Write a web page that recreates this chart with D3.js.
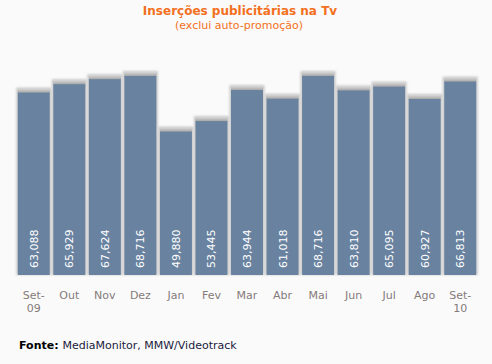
<!DOCTYPE html>
<html>
<head>
<meta charset="utf-8">
<script src="https://cdn.jsdelivr.net/npm/d3@7"></script>
<style>
body{margin:0;background:#fafafa;}
svg{display:block;font-family:Verdana,"DejaVu Sans",sans-serif;}
</style>
</head>
<body>
<div id="chart"></div>
<script>
// data
var months=['Set-\n09','Out','Nov','Dez','Jan','Fev','Mar','Abr','Mai','Jun','Jul','Ago','Set-\n10'];
var values=[63088,65929,67624,68716,49880,53445,63944,61018,68716,63810,65095,60927,66813];
var valueLabels=['63,088','65,929','67,624','68,716','49,880','53,445','63,944','61,018','68,716','63,810','65,095','60,927','66,813'];

var W=492,H=364;
var svg=d3.select('#chart').append('svg').attr('width',W).attr('height',H);
svg.append('rect').attr('width',W).attr('height',H).attr('fill','#fafafa');

var defs=svg.append('defs');
defs.append('filter').attr('id','glow').attr('x','-20%').attr('y','-20%').attr('width','140%').attr('height','140%')
  .append('feGaussianBlur').attr('stdDeviation',1);
var cap=defs.append('linearGradient').attr('id','cap').attr('x1',0).attr('y1',0).attr('x2',0).attr('y2',1);
cap.append('stop').attr('offset','0%').attr('stop-color','#d8d8d8');
cap.append('stop').attr('offset','100%').attr('stop-color','#9a9a9a');

var x=d3.scaleBand().domain(d3.range(months.length)).range([16,478]).paddingInner(0.1).paddingOuter(0.05);
var y=d3.scaleLinear().domain([0,68716]).range([275,72]);
var bottom=275;

var g=svg.selectAll('g.bar').data(values).enter().append('g').attr('class','bar');
// soft shadow around bar
g.append('rect').attr('x',function(d,i){return x(i)-1.5;}).attr('y',function(d){return y(d)-1;})
  .attr('width',x.bandwidth()+3).attr('height',function(d){return bottom-y(d)+1;})
  .attr('fill','#c8c8c8').attr('filter','url(#glow)');
// top cap
g.append('rect').attr('x',function(d,i){return x(i);}).attr('y',function(d){return y(d);})
  .attr('width',x.bandwidth()).attr('height',5).attr('fill','url(#cap)');
// bar body
g.append('rect').attr('x',function(d,i){return x(i);}).attr('y',function(d){return y(d)+4;})
  .attr('width',x.bandwidth()).attr('height',function(d){return bottom-y(d)-4;})
  .attr('fill','#6882a0');
// value labels
g.append('text').attr('transform',function(d,i){return 'translate('+(x(i)+x.bandwidth()/2+4)+',268) rotate(-90)';})
  .attr('fill','#ffffff').attr('font-size','11px').attr('text-anchor','start')
  .text(function(d,i){return valueLabels[i];});

// x axis labels
var xl=svg.selectAll('text.xl').data(months).enter().append('text').attr('class','xl')
  .attr('x',function(d,i){return x(i)+x.bandwidth()/2;}).attr('y',299)
  .attr('text-anchor','middle').attr('font-size','11px').attr('fill','#857a7a');
xl.each(function(d){
  var t=d3.select(this);
  d.split('\n').forEach(function(p,k){
    t.append('tspan').attr('x',t.attr('x')).attr('dy',k?13:0).text(p);
  });
});

// titles
svg.append('text').attr('x',240).attr('y',15).attr('text-anchor','middle').attr('font-size','12px')
  .attr('font-weight','bold').attr('fill','#f37021').text('Inserções publicitárias na Tv');
svg.append('text').attr('x',239).attr('y',29).attr('text-anchor','middle').attr('font-size','11px')
  .attr('fill','#f37021').text('(exclui auto-promoção)');

var src=svg.append('text').attr('x',19).attr('y',349).attr('font-size','11px');
src.append('tspan').attr('font-weight','bold').attr('fill','#000').text('Fonte: ');
src.append('tspan').attr('fill','#1a1a40').text('MediaMonitor, MMW/Videotrack');
</script>
</body>
</html>
